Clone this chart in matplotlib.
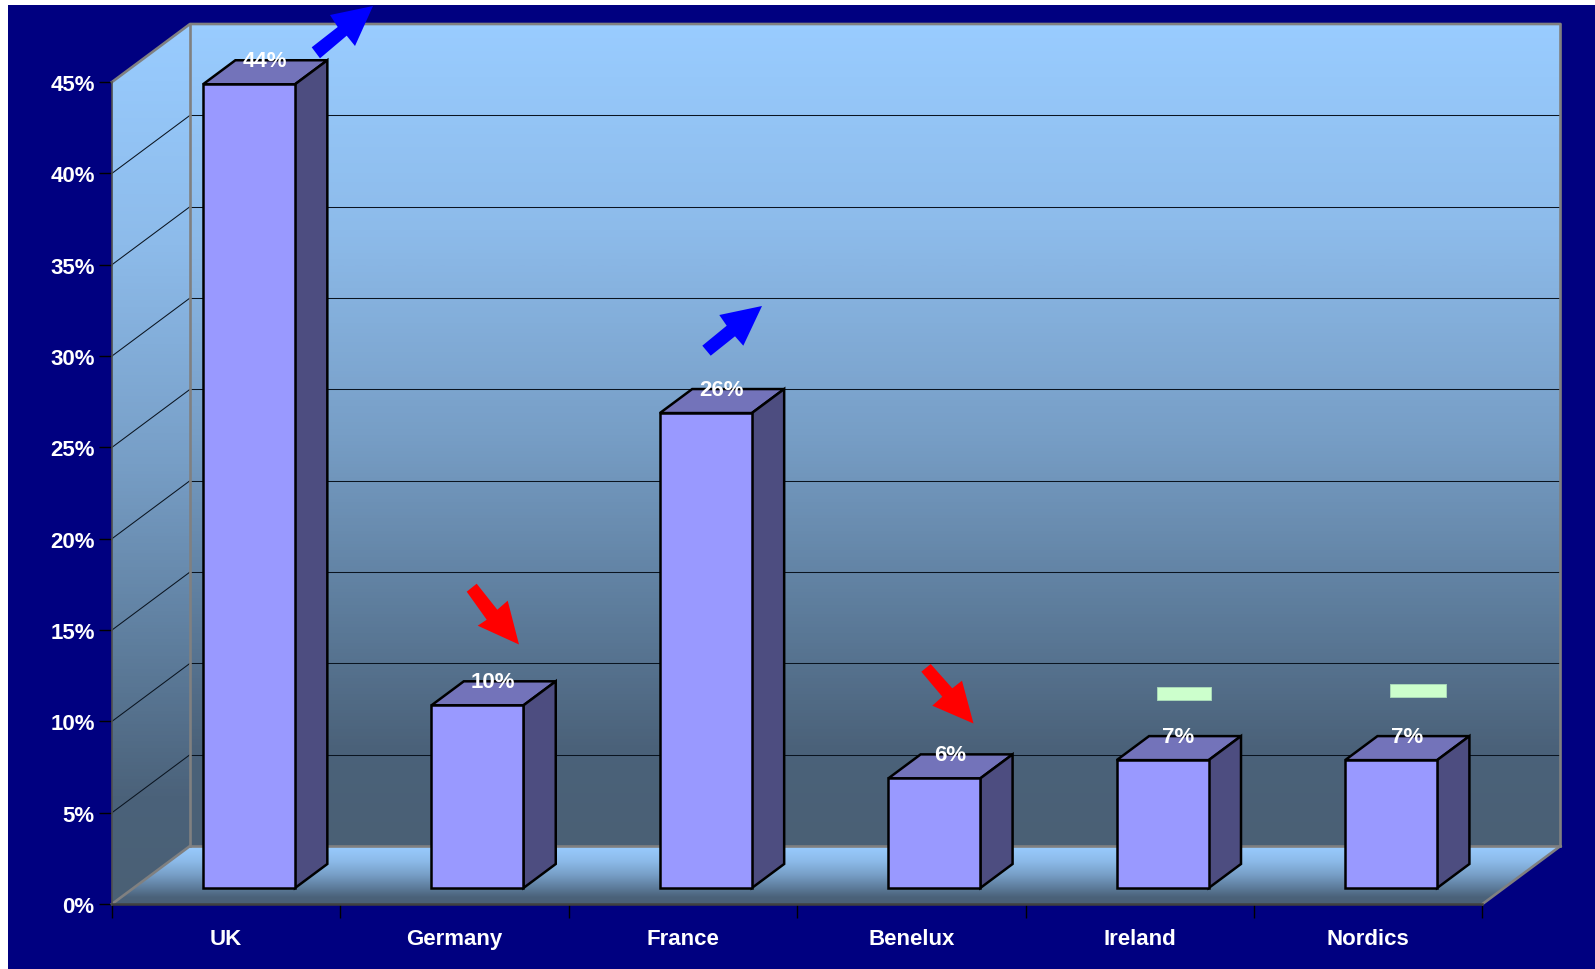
import numpy as np
import matplotlib
matplotlib.use("Agg")
import matplotlib.pyplot as plt
from matplotlib.colors import LinearSegmentedColormap
from matplotlib.patches import Polygon, Rectangle
from matplotlib.transforms import Affine2D

categories = ["UK", "Germany", "France", "Benelux", "Ireland", "Nordics"]
shares = [44, 10, 26, 6, 7, 7]
trends = ["up", "down", "up", "down", "flat", "flat"]
y_ticks = [0, 5, 10, 15, 20, 25, 30, 35, 40, 45]

W, H = 1595, 970
plt.rcParams["font.family"] = ["Liberation Sans", "DejaVu Sans"]
plt.rcParams["font.weight"] = "bold"
fig = plt.figure(figsize=(W / 100, H / 100), dpi=100, facecolor="white")
fig.patches.append(Rectangle((8 / W, 0), 1, 1 - 6 / H, transform=fig.transFigure,
                             facecolor="#000080", edgecolor="none", zorder=-10))

L, R, B, T = 112, 1482.5, 905, 83
FS = 16
ax = fig.add_axes([L / W, 1 - B / H, (R - L) / W, (B - T) / H])
ax.patch.set_visible(False)
n = len(categories)
ymax = y_ticks[-1]
xl, xr = -0.5, n - 0.5

# 3-D depth of the box, in data units
DX = 78 / ((R - L) / n)
DY = 58 / ((B - T) / ymax)
F0, F1 = 0.293, 0.707      # bar front and back depth
BW = 0.4026                # bar width

cmap = LinearSegmentedColormap.from_list(
    "wall",
    [(0.0, "#4A6075"), (0.12, "#4B627A"), (0.3, "#5F7F9F"), (0.5, "#779EC6"),
     (0.75, "#8DBBEA"), (1.0, "#99CCFF")],
)
grad = np.linspace(0, 1, 256)[:, None]


def gradient(poly, extent, z):
    im = ax.imshow(grad, cmap=cmap, origin="lower", extent=extent, aspect="auto",
                   zorder=z, interpolation="bilinear")
    clip = Polygon(poly, transform=ax.transData, facecolor="none", edgecolor="none")
    ax.add_patch(clip)
    im.set_clip_box(fig.bbox)
    im.set_clip_path(clip)


back = [(xl + DX, DY), (xr + DX, DY), (xr + DX, ymax + DY), (xl + DX, ymax + DY)]
side = [(xl, 0), (xl + DX, DY), (xl + DX, ymax + DY), (xl, ymax)]
floor = [(xl, 0), (xr, 0), (xr + DX, DY), (xl + DX, DY)]
gradient(back, (xl, xr + DX, DY, ymax + DY), 1)
gradient(side, (xl, xl + DX, 0, ymax + DY), 1)
gradient(floor, (xl, xr + DX, 0, DY), 1)

GRID = dict(color="#0A1420", lw=0.75, zorder=2, clip_on=False, solid_capstyle="butt")
for v in y_ticks[1:-1]:
    ax.plot([xl + DX, xr + DX], [v + DY, v + DY], **GRID)
    ax.plot([xl, xl + DX], [v, v + DY], **GRID)

EDGE = dict(color="#808080", lw=1.9, zorder=3, clip_on=False, solid_capstyle="projecting")
ax.plot([xl, xl + DX, xr + DX, xr + DX], [ymax, ymax + DY, ymax + DY, DY], **EDGE)
ax.plot([xl + DX, xl + DX], [ymax + DY, DY], **EDGE)
ax.plot([xl + DX, xr + DX], [DY, DY], **EDGE)
ax.plot([xl, xl + DX], [0, DY], **EDGE)
ax.plot([xr, xr + DX], [0, DY], **EDGE)

# bars
x = np.arange(n) + DX * F0
base = DY * 0.276
ax.bar(x, shares, BW, bottom=base, color="#9999FF", edgecolor="black", linewidth=1.8,
       zorder=5, clip_on=False)
ddx, ddy = DX * (F1 - F0), DY * (F1 - F0)
for xi, v in zip(x, shares):
    x0, x1, yb, yt = xi - BW / 2, xi + BW / 2, base, base + v
    ax.fill([x0, x1, x1 + ddx, x0 + ddx], [yt, yt, yt + ddy, yt + ddy],
            facecolor="#7373BA", edgecolor="black", lw=1.8, zorder=4.5, clip_on=False,
            joinstyle="miter")
    ax.fill([x1, x1 + ddx, x1 + ddx, x1], [yb, yb + ddy, yt + ddy, yt],
            facecolor="#4D4D80", edgecolor="black", lw=1.8, zorder=4.5, clip_on=False,
            joinstyle="miter")
    ax.text(xi + 0.068, yt + 1.3, f"{v}%", color="white", fontsize=FS, fontweight="bold",
            ha="center", va="center", zorder=7, clip_on=False)

# axes
ax.set_xlim(xl, xr)
ax.set_ylim(0, ymax)
for s in ("top", "right"):
    ax.spines[s].set_visible(False)
ax.spines["left"].set(color="#505050", linewidth=1.2, zorder=3.5)
ax.spines["bottom"].set(color="#404040", linewidth=1.8, zorder=3.5)
ax.set_yticks(y_ticks, [f"{v}%" for v in y_ticks])
ax.tick_params(axis="y", length=9.5, width=1, color="black", labelcolor="white",
               labelsize=FS, pad=3)
ax.set_xticks(range(n), categories)
ax.tick_params(axis="x", which="major", length=0, labelcolor="white", labelsize=FS, pad=17.5)
ax.set_xticks(np.arange(n + 1) - 0.5, minor=True)
ax.tick_params(axis="x", which="minor", length=10, width=1, color="black")
for t in ax.get_xticklabels() + ax.get_yticklabels():
    t.set_fontweight("bold")

# hand-placed trend markers, in picture pixels (outline of each block arrow)
px = Affine2D().scale(1, -1).translate(0, H)
ARROWS = {
    "UK": [(311.7, 48.3), (337.7, 28), (330, 16), (373, 7), (355, 47), (346.7, 36.7), (320, 59.3)],
    "Germany": [(466.7, 592.7), (486.7, 620.7), (477.7, 626.7), (519, 645.5),
                (507.7, 601.7), (497.3, 610.7), (476.7, 584.7)],
    "France": [(702.3, 346.7), (726.7, 326.7), (719.3, 316), (762, 307),
               (743.3, 346.7), (735, 337.3), (710.7, 356.7)],
    "Benelux": [(921.3, 672.7), (942.3, 697.7), (932.3, 706.7), (973.5, 724.5),
                (962, 681.7), (952.3, 689.3), (930.7, 665)],
}
DASHES = {"Ireland": (1156.5, 687.5, 54.5, 13), "Nordics": (1390, 684.5, 56, 13)}
TREND_COLOR = {"up": "#0000FF", "down": "#FF0000", "flat": "#CCFFCC"}

for name, tr in zip(categories, trends):
    if tr == "flat":
        xd, yd, w, h = DASHES[name]
        fig.add_artist(Rectangle((xd, yd), w, h, transform=px, facecolor=TREND_COLOR[tr],
                                 edgecolor="#A8D8B8", lw=0.7, zorder=8))
    else:
        fig.add_artist(Polygon(ARROWS[name], closed=True, transform=px,
                               facecolor=TREND_COLOR[tr], edgecolor="none", zorder=8))

fig.savefig("out.png", dpi=100, facecolor=fig.get_facecolor())
